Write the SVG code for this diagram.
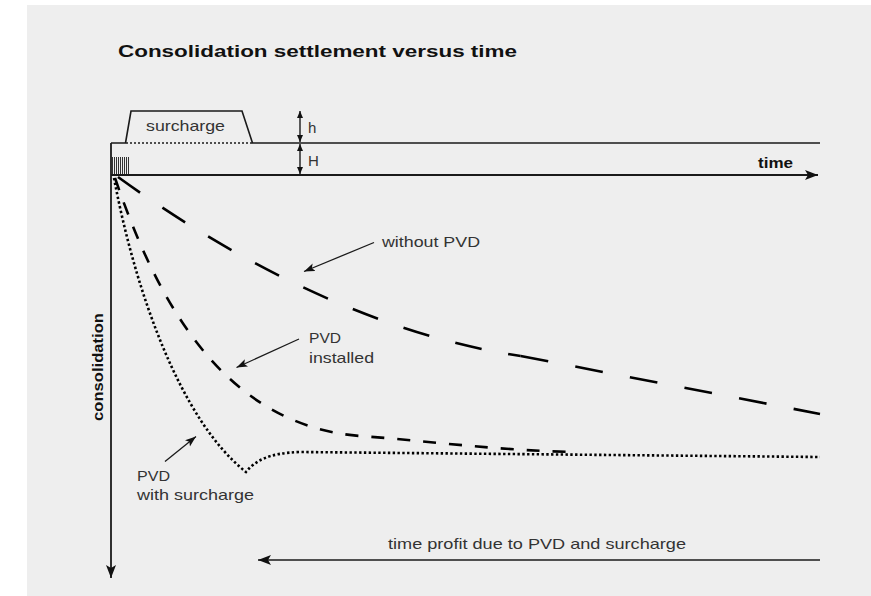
<svg xmlns="http://www.w3.org/2000/svg" width="871" height="596" viewBox="0 0 871 596">
<style>
.lbl{font-family:"Century Gothic","Liberation Sans",Arial,sans-serif;font-size:15px;fill:#333}
.bold{font-family:"Liberation Sans",Arial,sans-serif;font-weight:bold;fill:#111}
.ln{stroke:#1a1a1a;fill:none}
.ann{stroke:#1a1a1a;stroke-width:1.3;fill:none;marker-end:url(#ah)}
.curve{stroke:#000;stroke-width:2.6;fill:none}
</style>
<defs>
<marker id="ah" markerUnits="userSpaceOnUse" markerWidth="12" markerHeight="10" refX="11" refY="4" orient="auto">
<path d="M0,0 L11,4 L0,8 L2.5,4 Z" fill="#111"/>
</marker>
<marker id="ahs" markerUnits="userSpaceOnUse" markerWidth="8" markerHeight="8" refX="7" refY="3" orient="auto-start-reverse">
<path d="M0,0 L7,3 L0,6 Z" fill="#111"/>
</marker>
<marker id="ahb" markerUnits="userSpaceOnUse" markerWidth="14" markerHeight="12" refX="13" refY="5" orient="auto">
<path d="M0,0 L13,5 L0,10 L3,5 Z" fill="#111"/>
</marker>
</defs>
<rect x="27" y="5" width="844" height="591" fill="#eeeeee"/>
<text id="title" class="bold" x="118" y="57" font-size="17" textLength="399" lengthAdjust="spacingAndGlyphs">Consolidation settlement versus time</text>

<g id="soil">
<path class="ln" stroke-width="1.6" d="M111,143 H126 M252,143 H820"/>
<path class="ln" stroke-width="1.4" stroke-dasharray="2 2" d="M126,143 H252"/>
</g>
<g id="surcharge">
<path class="ln" stroke-width="1.6" d="M125.5,143 L131,111 H242 L252.5,143"/>
<text class="lbl" x="146" y="131" textLength="79" lengthAdjust="spacingAndGlyphs">surcharge</text>
</g>
<g id="pvd-drain">
<path stroke="#333" stroke-width="1" d="M112.5,157V175 M114.5,157V175 M116.5,157V175 M118.5,157V175 M120.5,157V175 M122.5,157V175 M124.5,157V175 M126.5,157V175 M128.5,157V175"/>
</g>
<g id="dims">
<line class="ln" stroke-width="1.4" x1="300" y1="111" x2="300" y2="142" marker-start="url(#ahs)" marker-end="url(#ahs)"/>
<line class="ln" stroke-width="1.4" x1="300" y1="144" x2="300" y2="174" marker-start="url(#ahs)" marker-end="url(#ahs)"/>
<text class="lbl" x="308" y="133">h</text>
<text class="lbl" x="308" y="166">H</text>
</g>
<g id="time-axis">
<line class="ln" stroke-width="1.8" x1="111" y1="175" x2="818" y2="175" marker-end="url(#ahb)"/>
<text class="bold" x="758" y="168" font-size="14" textLength="35" lengthAdjust="spacingAndGlyphs">time</text>
</g>
<g id="consolidation-axis">
<line class="ln" stroke-width="1.8" x1="111" y1="143" x2="111" y2="578" marker-end="url(#ahb)"/>
<text class="bold" font-size="14" transform="translate(103,367) rotate(-90)" text-anchor="middle" textLength="108" lengthAdjust="spacingAndGlyphs">consolidation</text>
</g>

<g id="curves">
<path id="without-pvd" class="curve" stroke-dasharray="27 27" d="M118,177 C240,265 380,335 520.7,356"/>
<path id="without-pvd-tail" class="curve" stroke-dasharray="28 27.6" d="M520.7,356 L820,414"/>
<path id="pvd-installed" class="curve" stroke-dasharray="13 13" d="M115,178 C155,295 220,425 360,436 C430,441 500,451 578,452"/>
<path id="pvd-surcharge" class="curve" stroke-width="2.4" stroke-dasharray="2.4 2.4" d="M114,178 C135,290 180,420 246,472 C255,461 268,453 300,452 L820,457"/>
</g>

<g id="connectors">
<line class="ann" x1="374" y1="242.5" x2="304" y2="271.5"/>
<line class="ann" x1="299" y1="339" x2="236.5" y2="367.5"/>
<line class="ann" x1="165" y1="461.5" x2="196" y2="436.5"/>
<line class="ln" stroke-width="1.5" x1="820" y1="560" x2="258" y2="560" marker-end="url(#ahb)"/>
</g>

<g id="label-without">
<text class="lbl" x="382" y="247" textLength="98" lengthAdjust="spacingAndGlyphs">without PVD</text>
</g>
<g id="label-installed">
<text class="lbl" x="309" y="343" textLength="32" lengthAdjust="spacingAndGlyphs">PVD</text>
<text class="lbl" x="309" y="363" textLength="65" lengthAdjust="spacingAndGlyphs">installed</text>
</g>
<g id="label-surcharge">
<text class="lbl" x="137" y="481" textLength="33" lengthAdjust="spacingAndGlyphs">PVD</text>
<text class="lbl" x="137" y="500" textLength="117" lengthAdjust="spacingAndGlyphs">with surcharge</text>
</g>
<g id="label-profit">
<text class="lbl" x="388" y="549" textLength="298" lengthAdjust="spacingAndGlyphs">time profit due to PVD and surcharge</text>
</g>
</svg>
